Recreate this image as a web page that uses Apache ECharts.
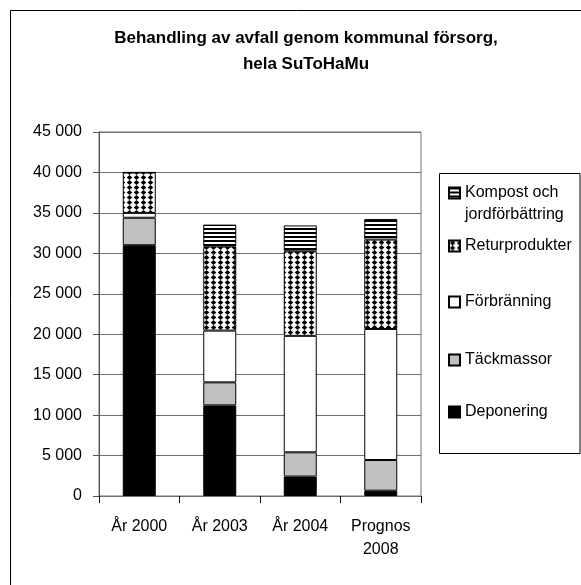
<!DOCTYPE html>
<html>
<head>
<meta charset="utf-8">
<script src="https://cdn.jsdelivr.net/npm/echarts@6/dist/echarts.min.js"></script>
<style>
  html, body { margin: 0; padding: 0; background: #fff; }
  #chart { width: 581px; height: 585px; }
</style>
</head>
<body>
<div id="chart"></div>
<script>
const categories = ['År 2000', 'År 2003', 'År 2004', 'Prognos\n2008'];
const deponering = [31000, 11200, 2400, 650];
const tackmassor = [3400, 2850, 3000, 3800];
const forbranning = [600, 6400, 14400, 16200];
const returprodukter = [5000, 10400, 10450, 11050];
const kompost = [0, 2700, 3200, 2550];
const yTicks = { min: 0, max: 45000, step: 5000 };

// fill patterns like the Excel ones
function dotPattern() {
  const c = document.createElement('canvas');
  c.width = 7; c.height = 5;
  const g = c.getContext('2d');
  g.fillStyle = '#fff';
  g.fillRect(0, 0, 7, 5);
  g.fillStyle = '#000';
  g.beginPath();
  g.moveTo(3.5, 0); g.lineTo(6.3, 2.5); g.lineTo(3.5, 5); g.lineTo(0.7, 2.5);
  g.closePath();
  g.fill();
  return c;
}
function stripePattern() {
  const c = document.createElement('canvas');
  c.width = 4; c.height = 4;
  const g = c.getContext('2d');
  g.fillStyle = '#fff';
  g.fillRect(0, 0, 4, 4);
  g.fillStyle = '#000';
  g.fillRect(0, 0, 4, 2);
  return c;
}

const fmt = v => String(v).replace(/\B(?=(\d{3})+(?!\d))/g, ' ');

const chart = echarts.init(document.getElementById('chart'));

const font = '"Liberation Sans", Arial, sans-serif';
const bar = (name, data, color) => ({
  name: name,
  type: 'bar',
  stack: 'total',
  barWidth: 33,
  data: data,
  itemStyle: { color: color, borderColor: '#000', borderWidth: 1 },
  emphasis: { disabled: true }
});

// one legend per entry so each can sit where Excel put it
const legendAt = (name, top, label) => ({
  data: [name],
  left: 448,
  top: top,
  padding: 0,
  icon: 'rect',
  itemWidth: 11,
  itemHeight: 11,
  textGap: 7,
  selectedMode: false,
  formatter: label ? () => label : undefined,
  textStyle: { fontFamily: font, fontSize: 16, color: '#000', lineHeight: 22 }
});

chart.setOption({
  backgroundColor: '#fff',
  animation: false,
  textStyle: { fontFamily: font },
  title: {
    text: 'Behandling av avfall genom kommunal försorg,\nhela SuToHaMu',
    left: 306,
    textAlign: 'center',
    top: 25,
    padding: 0,
    textStyle: { fontFamily: font, fontSize: 17, fontWeight: 'bold', color: '#000', lineHeight: 26 }
  },
  graphic: [
    { type: 'rect', shape: { x: 10.5, y: 10.5, width: 700, height: 700 }, style: { fill: 'none', stroke: '#000', lineWidth: 1 } },
    { type: 'rect', shape: { x: 439.5, y: 173.5, width: 140.5, height: 280 }, style: { fill: 'none', stroke: '#000', lineWidth: 1 } }
  ],
  legend: [
    legendAt('Kompost och jordförbättring', 160, '\u00a0\nKompost och\njordförbättring'),
    legendAt('Returprodukter', 235),
    legendAt('Förbränning', 291),
    legendAt('Täckmassor', 349),
    legendAt('Deponering', 401)
  ],
  grid: {
    left: 99,
    right: 160,
    top: 132,
    bottom: 89,
    show: true,
    borderColor: '#707070',
    borderWidth: 1
  },
  xAxis: {
    type: 'category',
    data: categories,
    axisLine: { lineStyle: { color: '#707070' } },
    axisTick: { show: true, length: 7, lineStyle: { color: '#000' } },
    axisLabel: { interval: 0, fontSize: 16, color: '#000', lineHeight: 23, margin: 19 }
  },
  yAxis: {
    type: 'value',
    min: yTicks.min,
    max: yTicks.max,
    interval: yTicks.step,
    axisLine: { show: true, lineStyle: { color: '#555' } },
    axisTick: { show: true, length: 6, lineStyle: { color: '#555' } },
    splitLine: { lineStyle: { color: '#707070' } },
    axisLabel: { fontSize: 16, color: '#000', margin: 17, formatter: fmt }
  },
  series: [
    bar('Deponering', deponering, '#000'),
    bar('Täckmassor', tackmassor, '#c0c0c0'),
    bar('Förbränning', forbranning, '#fff'),
    bar('Returprodukter', returprodukter, { image: dotPattern(), repeat: 'repeat' }),
    bar('Kompost och jordförbättring', kompost, { image: stripePattern(), repeat: 'repeat' })
  ]
});
</script>
</body>
</html>
